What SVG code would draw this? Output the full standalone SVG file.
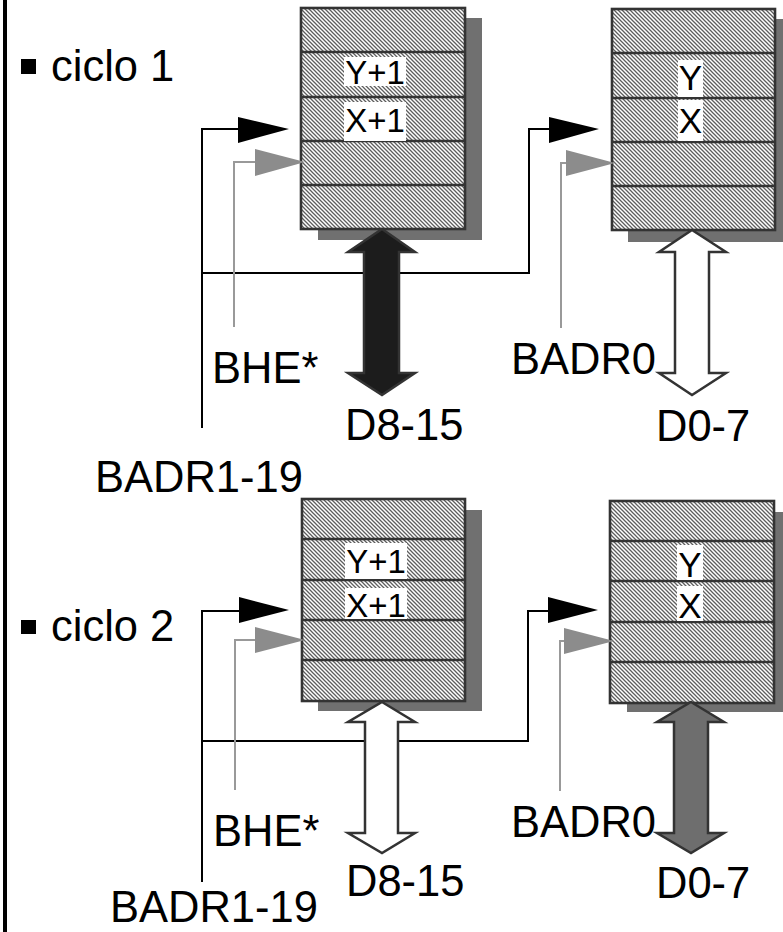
<svg xmlns="http://www.w3.org/2000/svg" width="783" height="932" viewBox="0 0 783 932">
<defs>
<pattern id="hatch" patternUnits="userSpaceOnUse" width="4" height="4">
<rect width="4" height="4" fill="#ffffff"/>
<path d="M-1,-1 L5,5 M-1,3 L1,5 M3,-1 L5,1" stroke="#5e5e5e" stroke-width="1.3"/>
</pattern>
</defs>
<style>
.lbl{font-family:"Liberation Sans",Arial,sans-serif;font-size:43.5px;fill:#000}
.cell{font-family:"Liberation Sans",Arial,sans-serif;font-size:33px;fill:#000;text-anchor:middle}
.cell2{font-family:"Liberation Sans",Arial,sans-serif;font-size:35px;fill:#000;text-anchor:middle}
.shadow{fill:#707070}
.mem{fill:url(#hatch);stroke:#333;stroke-width:2.6}
.div{stroke:#333;stroke-width:2.6}
.box{fill:#fff}
.blk{stroke:#000;stroke-width:2;fill:none}
.gry{stroke:#999;stroke-width:2;fill:none}
.hb{fill:#000}
.hg{fill:#8c8c8c}
.bus{stroke:#333;stroke-width:2.5;stroke-linejoin:miter}
</style>
<rect width="783" height="932" fill="#fff"/>
<line x1="5" y1="0" x2="5" y2="932" stroke="#000" stroke-width="4"/>

<g id="title1">
<rect x="21" y="59" width="15" height="15" fill="#000"/>
<text class="lbl" x="51" y="81">ciclo 1</text>
</g>
<g id="title2">
<rect x="21" y="620" width="15" height="14" fill="#000"/>
<text class="lbl" x="51" y="641">ciclo 2</text>
</g>

<g id="mem-odd-1">
<rect class="shadow" x="318" y="18" width="164" height="222"/>
<rect class="mem" x="301" y="8" width="164" height="221"/>
<path class="div" d="M301,52H465M301,97H465M301,141H465M301,185H465"/>
<rect class="box" x="344" y="57" width="62" height="29"/>
<rect class="box" x="344" y="102" width="62" height="39"/>
<text class="cell" x="375" y="84">Y+1</text>
<text class="cell" x="375" y="132">X+1</text>
</g>

<g id="mem-even-1">
<rect class="shadow" x="628" y="19" width="155" height="223"/>
<rect class="mem" x="612" y="9" width="163" height="221"/>
<path class="div" d="M612,53H775M612,98H775M612,142H775M612,186H775"/>
<rect class="box" x="678" y="60" width="25" height="37"/>
<rect class="box" x="678" y="100" width="25" height="41"/>
<text class="cell2" x="690.5" y="90">Y</text>
<text class="cell2" x="690.5" y="133">X</text>
</g>

<g id="mem-odd-2">
<rect class="shadow" x="318" y="510" width="164" height="201"/>
<rect class="mem" x="302" y="499" width="163" height="202"/>
<path class="div" d="M302,539H465M302,580H465M302,620H465M302,660H465"/>
<rect class="box" x="345" y="543" width="62" height="36"/>
<rect class="box" x="345" y="588" width="62" height="31"/>
<text class="cell" x="376" y="573">Y+1</text>
<text class="cell" x="376" y="617">X+1</text>
</g>

<g id="mem-even-2">
<rect class="shadow" x="627" y="512" width="156" height="200"/>
<rect class="mem" x="610" y="501" width="164" height="202"/>
<path class="div" d="M610,541H774M610,581H774M610,622H774M610,662H774"/>
<rect class="box" x="677" y="545" width="26" height="35"/>
<rect class="box" x="677" y="586" width="26" height="35"/>
<text class="cell2" x="690" y="577">Y</text>
<text class="cell2" x="690" y="618">X</text>
</g>

<g id="connectors">
<path class="blk" d="M202,428V129H239"/>
<path class="blk" d="M202,273H529V129H549"/>
<polygon class="hb" points="238,117 289,129 238,143"/>
<polygon class="hb" points="549,117 599,129 549,143"/>
<path class="gry" d="M234,327V162H256"/>
<path class="gry" d="M561,328V163H567"/>
<polygon class="hg" points="255,149 305,162 255,176"/>
<polygon class="hg" points="566,150 615,163 566,176"/>
<path class="blk" d="M202,882V611H240"/>
<path class="blk" d="M202,741H528V611H549"/>
<polygon class="hb" points="239,597 289,610 239,623"/>
<polygon class="hb" points="548,597 598,610 548,623"/>
<path class="gry" d="M235,790V640H256"/>
<path class="gry" d="M560,791V641H565"/>
<polygon class="hg" points="255,627 305,640 255,653"/>
<polygon class="hg" points="564,628 614,641 564,654"/>
</g>

<g id="bus-d8-15-1">
<path class="bus" fill="#1c1c1c" stroke="#1c1c1c" d="M382,229 L415,252 L399,252 L399,373 L415,373 L382,395 L348,373 L364,373 L364,252 L348,252 Z"/>
</g>
<g id="bus-d0-7-1">
<path class="bus" fill="#fff" d="M692,230 L726,252 L709,252 L709,373 L726,373 L692,395 L659,373 L675,373 L675,252 L659,252 Z"/>
</g>
<g id="bus-d8-15-2">
<path class="bus" fill="#fff" d="M382,702 L415,722 L398,722 L398,833 L415,833 L382,853 L348,833 L365,833 L365,722 L348,722 Z"/>
</g>
<g id="bus-d0-7-2">
<path class="bus" fill="#6e6e6e" d="M691,702 L724,722 L708,722 L708,833 L724,833 L691,853 L657,833 L674,833 L674,722 L657,722 Z"/>
</g>

<g id="labels1">
<text class="lbl" x="212" y="383">BHE*</text>
<text class="lbl" x="345" y="440">D8-15</text>
<text class="lbl" x="511" y="374">BADR0</text>
<text class="lbl" x="656" y="441">D0-7</text>
<text class="lbl" x="95" y="492">BADR1-19</text>
</g>
<g id="labels2">
<text class="lbl" x="213" y="846">BHE*</text>
<text class="lbl" x="346" y="896">D8-15</text>
<text class="lbl" x="511" y="837">BADR0</text>
<text class="lbl" x="656" y="898">D0-7</text>
<text class="lbl" x="110" y="922">BADR1-19</text>
</g>
</svg>
